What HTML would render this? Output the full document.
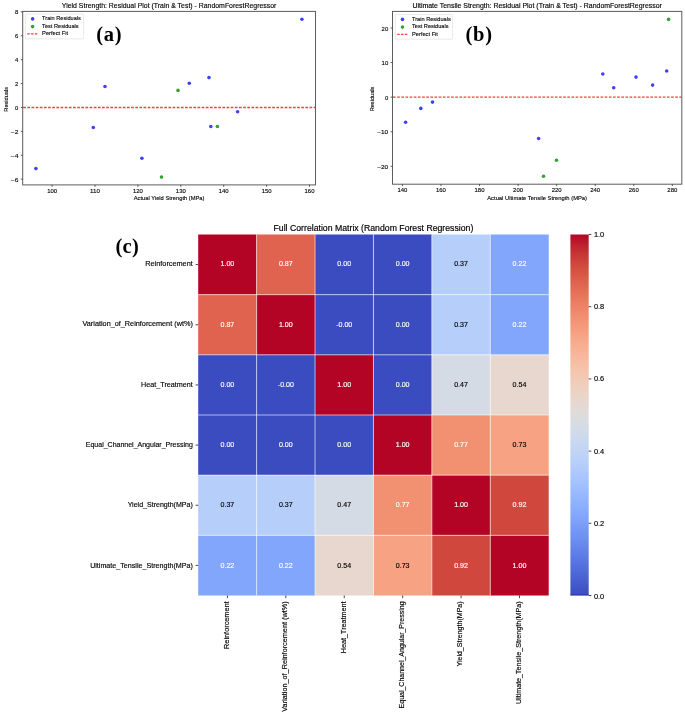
<!DOCTYPE html>
<html><head><meta charset="utf-8"><style>
html,body{margin:0;padding:0;background:#fff;}
body{width:685px;height:716px;overflow:hidden;font-family:"Liberation Sans",sans-serif;}
svg{display:block;will-change:transform;}

</style></head><body>
<svg width="685" height="716" viewBox="0 0 685 716" font-family="Liberation Sans, sans-serif">
<rect width="685" height="716" fill="#fff"/>
<text x="169.10" y="8.10" font-size="7.18" text-anchor="middle" fill="#000" stroke="#000" stroke-width="0.14" textLength="214.57" lengthAdjust="spacingAndGlyphs">Yield Strength: Residual Plot (Train &amp; Test) - RandomForestRegressor</text>
<line x1="23.20" y1="107.45" x2="315.50" y2="107.45" stroke="#f43c3c" stroke-width="1.4" stroke-dasharray="2.7 1.45"/>
<circle cx="35.90" cy="168.60" r="1.80" fill="#4040f8"/>
<circle cx="93.30" cy="127.50" r="1.80" fill="#4040f8"/>
<circle cx="105.00" cy="86.50" r="1.80" fill="#4040f8"/>
<circle cx="141.90" cy="158.30" r="1.80" fill="#4040f8"/>
<circle cx="189.30" cy="83.20" r="1.80" fill="#4040f8"/>
<circle cx="209.00" cy="77.60" r="1.80" fill="#4040f8"/>
<circle cx="210.80" cy="126.50" r="1.80" fill="#4040f8"/>
<circle cx="237.60" cy="111.70" r="1.80" fill="#4040f8"/>
<circle cx="301.90" cy="19.30" r="1.80" fill="#4040f8"/>
<circle cx="178.00" cy="90.40" r="1.80" fill="#37a037"/>
<circle cx="161.50" cy="177.10" r="1.80" fill="#37a037"/>
<circle cx="217.40" cy="126.50" r="1.80" fill="#37a037"/>
<rect x="22.70" y="11.40" width="292.80" height="173.50" fill="none" stroke="#5c5c5c" stroke-width="1"/>
<line x1="52.10" y1="184.90" x2="52.10" y2="186.80" stroke="#333" stroke-width="0.8"/>
<text x="52.10" y="192.80" font-size="5.98" text-anchor="middle" fill="#000" stroke="#000" stroke-width="0.12" textLength="9.93" lengthAdjust="spacingAndGlyphs">100</text>
<line x1="95.00" y1="184.90" x2="95.00" y2="186.80" stroke="#333" stroke-width="0.8"/>
<text x="95.00" y="192.80" font-size="5.98" text-anchor="middle" fill="#000" stroke="#000" stroke-width="0.12" textLength="9.93" lengthAdjust="spacingAndGlyphs">110</text>
<line x1="137.90" y1="184.90" x2="137.90" y2="186.80" stroke="#333" stroke-width="0.8"/>
<text x="137.90" y="192.80" font-size="5.98" text-anchor="middle" fill="#000" stroke="#000" stroke-width="0.12" textLength="9.93" lengthAdjust="spacingAndGlyphs">120</text>
<line x1="180.80" y1="184.90" x2="180.80" y2="186.80" stroke="#333" stroke-width="0.8"/>
<text x="180.80" y="192.80" font-size="5.98" text-anchor="middle" fill="#000" stroke="#000" stroke-width="0.12" textLength="9.93" lengthAdjust="spacingAndGlyphs">130</text>
<line x1="223.70" y1="184.90" x2="223.70" y2="186.80" stroke="#333" stroke-width="0.8"/>
<text x="223.70" y="192.80" font-size="5.98" text-anchor="middle" fill="#000" stroke="#000" stroke-width="0.12" textLength="9.93" lengthAdjust="spacingAndGlyphs">140</text>
<line x1="266.60" y1="184.90" x2="266.60" y2="186.80" stroke="#333" stroke-width="0.8"/>
<text x="266.60" y="192.80" font-size="5.98" text-anchor="middle" fill="#000" stroke="#000" stroke-width="0.12" textLength="9.93" lengthAdjust="spacingAndGlyphs">150</text>
<line x1="309.50" y1="184.90" x2="309.50" y2="186.80" stroke="#333" stroke-width="0.8"/>
<text x="309.50" y="192.80" font-size="5.98" text-anchor="middle" fill="#000" stroke="#000" stroke-width="0.12" textLength="9.93" lengthAdjust="spacingAndGlyphs">160</text>
<line x1="20.80" y1="179.15" x2="22.70" y2="179.15" stroke="#333" stroke-width="0.8"/>
<text x="18.40" y="181.75" font-size="5.98" text-anchor="end" fill="#000" stroke="#000" stroke-width="0.12" textLength="7.67" lengthAdjust="spacingAndGlyphs">−6</text>
<line x1="20.80" y1="155.25" x2="22.70" y2="155.25" stroke="#333" stroke-width="0.8"/>
<text x="18.40" y="157.85" font-size="5.98" text-anchor="end" fill="#000" stroke="#000" stroke-width="0.12" textLength="7.67" lengthAdjust="spacingAndGlyphs">−4</text>
<line x1="20.80" y1="131.35" x2="22.70" y2="131.35" stroke="#333" stroke-width="0.8"/>
<text x="18.40" y="133.95" font-size="5.98" text-anchor="end" fill="#000" stroke="#000" stroke-width="0.12" textLength="7.67" lengthAdjust="spacingAndGlyphs">−2</text>
<line x1="20.80" y1="107.45" x2="22.70" y2="107.45" stroke="#333" stroke-width="0.8"/>
<text x="18.40" y="110.05" font-size="5.98" text-anchor="end" fill="#000" stroke="#000" stroke-width="0.12" textLength="3.31" lengthAdjust="spacingAndGlyphs">0</text>
<line x1="20.80" y1="83.55" x2="22.70" y2="83.55" stroke="#333" stroke-width="0.8"/>
<text x="18.40" y="86.15" font-size="5.98" text-anchor="end" fill="#000" stroke="#000" stroke-width="0.12" textLength="3.31" lengthAdjust="spacingAndGlyphs">2</text>
<line x1="20.80" y1="59.65" x2="22.70" y2="59.65" stroke="#333" stroke-width="0.8"/>
<text x="18.40" y="62.25" font-size="5.98" text-anchor="end" fill="#000" stroke="#000" stroke-width="0.12" textLength="3.31" lengthAdjust="spacingAndGlyphs">4</text>
<line x1="20.80" y1="35.75" x2="22.70" y2="35.75" stroke="#333" stroke-width="0.8"/>
<text x="18.40" y="38.35" font-size="5.98" text-anchor="end" fill="#000" stroke="#000" stroke-width="0.12" textLength="3.31" lengthAdjust="spacingAndGlyphs">6</text>
<line x1="20.80" y1="11.85" x2="22.70" y2="11.85" stroke="#333" stroke-width="0.8"/>
<text x="18.40" y="14.45" font-size="5.98" text-anchor="end" fill="#000" stroke="#000" stroke-width="0.12" textLength="3.31" lengthAdjust="spacingAndGlyphs">8</text>
<text x="169.10" y="200.40" font-size="5.98" text-anchor="middle" fill="#000" stroke="#000" stroke-width="0.12" textLength="70.76" lengthAdjust="spacingAndGlyphs">Actual Yield Strength (MPa)</text>
<text x="8.20" y="99.35" font-size="5.98" text-anchor="middle" fill="#000" stroke="#000" stroke-width="0.12" textLength="24.67" lengthAdjust="spacingAndGlyphs" transform="rotate(-90 8.20 99.35)">Residuals</text>
<rect x="25.30" y="14.10" width="58.30" height="24.80" rx="1" fill="#fff" fill-opacity="0.8" stroke="#d8d8d8" stroke-width="0.6"/>
<circle cx="32.60" cy="18.90" r="1.80" fill="#4040f8"/>
<text x="42.10" y="20.20" font-size="5.98" text-anchor="start" fill="#000" stroke="#000" stroke-width="0.12" textLength="38.80" lengthAdjust="spacingAndGlyphs">Train Residuals</text>
<circle cx="32.60" cy="26.60" r="1.80" fill="#37a037"/>
<text x="42.10" y="27.90" font-size="5.98" text-anchor="start" fill="#000" stroke="#000" stroke-width="0.12" textLength="36.56" lengthAdjust="spacingAndGlyphs">Test Residuals</text>
<line x1="27.30" y1="33.90" x2="37.90" y2="33.90" stroke="#f43c3c" stroke-width="1.3" stroke-dasharray="2.5 1.3"/>
<text x="42.10" y="35.20" font-size="5.98" text-anchor="start" fill="#000" stroke="#000" stroke-width="0.12" textLength="25.96" lengthAdjust="spacingAndGlyphs">Perfect Fit</text>
<text x="96.30" y="40.90" style="font-family:Liberation Serif,serif;font-weight:bold;letter-spacing:0.7px" font-size="20.5" fill="#000">(a)</text>
<text x="537.15" y="8.10" font-size="7.18" text-anchor="middle" fill="#000" stroke="#000" stroke-width="0.14" textLength="249.47" lengthAdjust="spacingAndGlyphs">Ultimate Tensile Strength: Residual Plot (Train &amp; Test) - RandomForestRegressor</text>
<line x1="393.00" y1="97.15" x2="681.80" y2="97.15" stroke="#f43c3c" stroke-width="1.4" stroke-dasharray="2.7 1.45"/>
<circle cx="405.60" cy="122.20" r="1.80" fill="#4040f8"/>
<circle cx="420.80" cy="108.40" r="1.80" fill="#4040f8"/>
<circle cx="432.50" cy="102.10" r="1.80" fill="#4040f8"/>
<circle cx="538.60" cy="138.50" r="1.80" fill="#4040f8"/>
<circle cx="602.80" cy="74.00" r="1.80" fill="#4040f8"/>
<circle cx="613.70" cy="87.70" r="1.80" fill="#4040f8"/>
<circle cx="636.00" cy="77.10" r="1.80" fill="#4040f8"/>
<circle cx="652.60" cy="85.10" r="1.80" fill="#4040f8"/>
<circle cx="666.70" cy="71.00" r="1.80" fill="#4040f8"/>
<circle cx="556.50" cy="160.30" r="1.80" fill="#37a037"/>
<circle cx="543.50" cy="176.20" r="1.80" fill="#37a037"/>
<circle cx="668.60" cy="19.40" r="1.80" fill="#37a037"/>
<rect x="392.50" y="11.40" width="289.30" height="172.80" fill="none" stroke="#5c5c5c" stroke-width="1"/>
<line x1="402.40" y1="184.20" x2="402.40" y2="186.10" stroke="#333" stroke-width="0.8"/>
<text x="402.40" y="192.10" font-size="5.98" text-anchor="middle" fill="#000" stroke="#000" stroke-width="0.12" textLength="9.93" lengthAdjust="spacingAndGlyphs">140</text>
<line x1="440.96" y1="184.20" x2="440.96" y2="186.10" stroke="#333" stroke-width="0.8"/>
<text x="440.96" y="192.10" font-size="5.98" text-anchor="middle" fill="#000" stroke="#000" stroke-width="0.12" textLength="9.93" lengthAdjust="spacingAndGlyphs">160</text>
<line x1="479.52" y1="184.20" x2="479.52" y2="186.10" stroke="#333" stroke-width="0.8"/>
<text x="479.52" y="192.10" font-size="5.98" text-anchor="middle" fill="#000" stroke="#000" stroke-width="0.12" textLength="9.93" lengthAdjust="spacingAndGlyphs">180</text>
<line x1="518.08" y1="184.20" x2="518.08" y2="186.10" stroke="#333" stroke-width="0.8"/>
<text x="518.08" y="192.10" font-size="5.98" text-anchor="middle" fill="#000" stroke="#000" stroke-width="0.12" textLength="9.93" lengthAdjust="spacingAndGlyphs">200</text>
<line x1="556.64" y1="184.20" x2="556.64" y2="186.10" stroke="#333" stroke-width="0.8"/>
<text x="556.64" y="192.10" font-size="5.98" text-anchor="middle" fill="#000" stroke="#000" stroke-width="0.12" textLength="9.93" lengthAdjust="spacingAndGlyphs">220</text>
<line x1="595.20" y1="184.20" x2="595.20" y2="186.10" stroke="#333" stroke-width="0.8"/>
<text x="595.20" y="192.10" font-size="5.98" text-anchor="middle" fill="#000" stroke="#000" stroke-width="0.12" textLength="9.93" lengthAdjust="spacingAndGlyphs">240</text>
<line x1="633.76" y1="184.20" x2="633.76" y2="186.10" stroke="#333" stroke-width="0.8"/>
<text x="633.76" y="192.10" font-size="5.98" text-anchor="middle" fill="#000" stroke="#000" stroke-width="0.12" textLength="9.93" lengthAdjust="spacingAndGlyphs">260</text>
<line x1="672.32" y1="184.20" x2="672.32" y2="186.10" stroke="#333" stroke-width="0.8"/>
<text x="672.32" y="192.10" font-size="5.98" text-anchor="middle" fill="#000" stroke="#000" stroke-width="0.12" textLength="9.93" lengthAdjust="spacingAndGlyphs">280</text>
<line x1="390.60" y1="166.35" x2="392.50" y2="166.35" stroke="#333" stroke-width="0.8"/>
<text x="388.20" y="168.95" font-size="5.98" text-anchor="end" fill="#000" stroke="#000" stroke-width="0.12" textLength="10.97" lengthAdjust="spacingAndGlyphs">−20</text>
<line x1="390.60" y1="131.75" x2="392.50" y2="131.75" stroke="#333" stroke-width="0.8"/>
<text x="388.20" y="134.35" font-size="5.98" text-anchor="end" fill="#000" stroke="#000" stroke-width="0.12" textLength="10.97" lengthAdjust="spacingAndGlyphs">−10</text>
<line x1="390.60" y1="97.15" x2="392.50" y2="97.15" stroke="#333" stroke-width="0.8"/>
<text x="388.20" y="99.75" font-size="5.98" text-anchor="end" fill="#000" stroke="#000" stroke-width="0.12" textLength="3.31" lengthAdjust="spacingAndGlyphs">0</text>
<line x1="390.60" y1="62.55" x2="392.50" y2="62.55" stroke="#333" stroke-width="0.8"/>
<text x="388.20" y="65.15" font-size="5.98" text-anchor="end" fill="#000" stroke="#000" stroke-width="0.12" textLength="6.62" lengthAdjust="spacingAndGlyphs">10</text>
<line x1="390.60" y1="27.95" x2="392.50" y2="27.95" stroke="#333" stroke-width="0.8"/>
<text x="388.20" y="30.55" font-size="5.98" text-anchor="end" fill="#000" stroke="#000" stroke-width="0.12" textLength="6.62" lengthAdjust="spacingAndGlyphs">20</text>
<text x="537.15" y="199.70" font-size="5.98" text-anchor="middle" fill="#000" stroke="#000" stroke-width="0.12" textLength="99.84" lengthAdjust="spacingAndGlyphs">Actual Ultimate Tensile Strength (MPa)</text>
<text x="374.40" y="99.00" font-size="5.98" text-anchor="middle" fill="#000" stroke="#000" stroke-width="0.12" textLength="24.67" lengthAdjust="spacingAndGlyphs" transform="rotate(-90 374.40 99.00)">Residuals</text>
<rect x="395.20" y="14.60" width="57.40" height="24.60" rx="1" fill="#fff" fill-opacity="0.8" stroke="#d8d8d8" stroke-width="0.6"/>
<circle cx="402.50" cy="19.40" r="1.80" fill="#4040f8"/>
<text x="412.00" y="20.70" font-size="5.98" text-anchor="start" fill="#000" stroke="#000" stroke-width="0.12" textLength="38.80" lengthAdjust="spacingAndGlyphs">Train Residuals</text>
<circle cx="402.50" cy="27.10" r="1.80" fill="#37a037"/>
<text x="412.00" y="28.40" font-size="5.98" text-anchor="start" fill="#000" stroke="#000" stroke-width="0.12" textLength="36.56" lengthAdjust="spacingAndGlyphs">Test Residuals</text>
<line x1="397.20" y1="34.40" x2="407.80" y2="34.40" stroke="#f43c3c" stroke-width="1.3" stroke-dasharray="2.5 1.3"/>
<text x="412.00" y="35.70" font-size="5.98" text-anchor="start" fill="#000" stroke="#000" stroke-width="0.12" textLength="25.96" lengthAdjust="spacingAndGlyphs">Perfect Fit</text>
<text x="465.60" y="40.90" style="font-family:Liberation Serif,serif;font-weight:bold;letter-spacing:0.7px" font-size="20.5" fill="#000">(b)</text>
<text x="373.45" y="230.90" font-size="9.04" text-anchor="middle" fill="#000" stroke="#000" stroke-width="0.18" textLength="199.81" lengthAdjust="spacingAndGlyphs">Full Correlation Matrix (Random Forest Regression)</text>
<rect x="198.20" y="234.50" width="58.44" height="60.19" fill="#b40426"/>
<rect x="256.62" y="234.50" width="58.44" height="60.19" fill="#df634e"/>
<rect x="315.03" y="234.50" width="58.44" height="60.19" fill="#3b4cc0"/>
<rect x="373.45" y="234.50" width="58.44" height="60.19" fill="#3b4cc0"/>
<rect x="431.87" y="234.50" width="58.44" height="60.19" fill="#b6cefa"/>
<rect x="490.28" y="234.50" width="58.44" height="60.19" fill="#82a6fb"/>
<rect x="198.20" y="294.67" width="58.44" height="60.19" fill="#df634e"/>
<rect x="256.62" y="294.67" width="58.44" height="60.19" fill="#b40426"/>
<rect x="315.03" y="294.67" width="58.44" height="60.19" fill="#3b4cc0"/>
<rect x="373.45" y="294.67" width="58.44" height="60.19" fill="#3b4cc0"/>
<rect x="431.87" y="294.67" width="58.44" height="60.19" fill="#b6cefa"/>
<rect x="490.28" y="294.67" width="58.44" height="60.19" fill="#82a6fb"/>
<rect x="198.20" y="354.83" width="58.44" height="60.19" fill="#3b4cc0"/>
<rect x="256.62" y="354.83" width="58.44" height="60.19" fill="#3b4cc0"/>
<rect x="315.03" y="354.83" width="58.44" height="60.19" fill="#b40426"/>
<rect x="373.45" y="354.83" width="58.44" height="60.19" fill="#3b4cc0"/>
<rect x="431.87" y="354.83" width="58.44" height="60.19" fill="#d5dbe5"/>
<rect x="490.28" y="354.83" width="58.44" height="60.19" fill="#e7d7ce"/>
<rect x="198.20" y="415.00" width="58.44" height="60.19" fill="#3b4cc0"/>
<rect x="256.62" y="415.00" width="58.44" height="60.19" fill="#3b4cc0"/>
<rect x="315.03" y="415.00" width="58.44" height="60.19" fill="#3b4cc0"/>
<rect x="373.45" y="415.00" width="58.44" height="60.19" fill="#b40426"/>
<rect x="431.87" y="415.00" width="58.44" height="60.19" fill="#f29072"/>
<rect x="490.28" y="415.00" width="58.44" height="60.19" fill="#f6a283"/>
<rect x="198.20" y="475.17" width="58.44" height="60.19" fill="#b6cefa"/>
<rect x="256.62" y="475.17" width="58.44" height="60.19" fill="#b6cefa"/>
<rect x="315.03" y="475.17" width="58.44" height="60.19" fill="#d5dbe5"/>
<rect x="373.45" y="475.17" width="58.44" height="60.19" fill="#f29072"/>
<rect x="431.87" y="475.17" width="58.44" height="60.19" fill="#b40426"/>
<rect x="490.28" y="475.17" width="58.44" height="60.19" fill="#d0473d"/>
<rect x="198.20" y="535.33" width="58.44" height="60.19" fill="#82a6fb"/>
<rect x="256.62" y="535.33" width="58.44" height="60.19" fill="#82a6fb"/>
<rect x="315.03" y="535.33" width="58.44" height="60.19" fill="#e7d7ce"/>
<rect x="373.45" y="535.33" width="58.44" height="60.19" fill="#f6a283"/>
<rect x="431.87" y="535.33" width="58.44" height="60.19" fill="#d0473d"/>
<rect x="490.28" y="535.33" width="58.44" height="60.19" fill="#b40426"/>
<text x="227.41" y="266.18" font-size="7.13" text-anchor="middle" fill="#fff" stroke="#fff" stroke-width="0.14" textLength="13.80" lengthAdjust="spacingAndGlyphs">1.00</text>
<text x="285.82" y="266.18" font-size="7.13" text-anchor="middle" fill="#fff" stroke="#fff" stroke-width="0.14" textLength="13.80" lengthAdjust="spacingAndGlyphs">0.87</text>
<text x="344.24" y="266.18" font-size="7.13" text-anchor="middle" fill="#fff" stroke="#fff" stroke-width="0.14" textLength="13.80" lengthAdjust="spacingAndGlyphs">0.00</text>
<text x="402.66" y="266.18" font-size="7.13" text-anchor="middle" fill="#fff" stroke="#fff" stroke-width="0.14" textLength="13.80" lengthAdjust="spacingAndGlyphs">0.00</text>
<text x="461.08" y="266.18" font-size="7.13" text-anchor="middle" fill="#000" stroke="#000" stroke-width="0.14" textLength="13.80" lengthAdjust="spacingAndGlyphs">0.37</text>
<text x="519.49" y="266.18" font-size="7.13" text-anchor="middle" fill="#fff" stroke="#fff" stroke-width="0.14" textLength="13.80" lengthAdjust="spacingAndGlyphs">0.22</text>
<text x="227.41" y="326.50" font-size="7.13" text-anchor="middle" fill="#fff" stroke="#fff" stroke-width="0.14" textLength="13.80" lengthAdjust="spacingAndGlyphs">0.87</text>
<text x="285.82" y="326.50" font-size="7.13" text-anchor="middle" fill="#fff" stroke="#fff" stroke-width="0.14" textLength="13.80" lengthAdjust="spacingAndGlyphs">1.00</text>
<text x="344.24" y="326.50" font-size="7.13" text-anchor="middle" fill="#fff" stroke="#fff" stroke-width="0.14" textLength="16.04" lengthAdjust="spacingAndGlyphs">-0.00</text>
<text x="402.66" y="326.50" font-size="7.13" text-anchor="middle" fill="#fff" stroke="#fff" stroke-width="0.14" textLength="13.80" lengthAdjust="spacingAndGlyphs">0.00</text>
<text x="461.08" y="326.50" font-size="7.13" text-anchor="middle" fill="#000" stroke="#000" stroke-width="0.14" textLength="13.80" lengthAdjust="spacingAndGlyphs">0.37</text>
<text x="519.49" y="326.50" font-size="7.13" text-anchor="middle" fill="#fff" stroke="#fff" stroke-width="0.14" textLength="13.80" lengthAdjust="spacingAndGlyphs">0.22</text>
<text x="227.41" y="386.82" font-size="7.13" text-anchor="middle" fill="#fff" stroke="#fff" stroke-width="0.14" textLength="13.80" lengthAdjust="spacingAndGlyphs">0.00</text>
<text x="285.82" y="386.82" font-size="7.13" text-anchor="middle" fill="#fff" stroke="#fff" stroke-width="0.14" textLength="16.04" lengthAdjust="spacingAndGlyphs">-0.00</text>
<text x="344.24" y="386.82" font-size="7.13" text-anchor="middle" fill="#fff" stroke="#fff" stroke-width="0.14" textLength="13.80" lengthAdjust="spacingAndGlyphs">1.00</text>
<text x="402.66" y="386.82" font-size="7.13" text-anchor="middle" fill="#fff" stroke="#fff" stroke-width="0.14" textLength="13.80" lengthAdjust="spacingAndGlyphs">0.00</text>
<text x="461.08" y="386.82" font-size="7.13" text-anchor="middle" fill="#000" stroke="#000" stroke-width="0.14" textLength="13.80" lengthAdjust="spacingAndGlyphs">0.47</text>
<text x="519.49" y="386.82" font-size="7.13" text-anchor="middle" fill="#000" stroke="#000" stroke-width="0.14" textLength="13.80" lengthAdjust="spacingAndGlyphs">0.54</text>
<text x="227.41" y="447.13" font-size="7.13" text-anchor="middle" fill="#fff" stroke="#fff" stroke-width="0.14" textLength="13.80" lengthAdjust="spacingAndGlyphs">0.00</text>
<text x="285.82" y="447.13" font-size="7.13" text-anchor="middle" fill="#fff" stroke="#fff" stroke-width="0.14" textLength="13.80" lengthAdjust="spacingAndGlyphs">0.00</text>
<text x="344.24" y="447.13" font-size="7.13" text-anchor="middle" fill="#fff" stroke="#fff" stroke-width="0.14" textLength="13.80" lengthAdjust="spacingAndGlyphs">0.00</text>
<text x="402.66" y="447.13" font-size="7.13" text-anchor="middle" fill="#fff" stroke="#fff" stroke-width="0.14" textLength="13.80" lengthAdjust="spacingAndGlyphs">1.00</text>
<text x="461.08" y="447.13" font-size="7.13" text-anchor="middle" fill="#fff" stroke="#fff" stroke-width="0.14" textLength="13.80" lengthAdjust="spacingAndGlyphs">0.77</text>
<text x="519.49" y="447.13" font-size="7.13" text-anchor="middle" fill="#000" stroke="#000" stroke-width="0.14" textLength="13.80" lengthAdjust="spacingAndGlyphs">0.73</text>
<text x="227.41" y="507.45" font-size="7.13" text-anchor="middle" fill="#000" stroke="#000" stroke-width="0.14" textLength="13.80" lengthAdjust="spacingAndGlyphs">0.37</text>
<text x="285.82" y="507.45" font-size="7.13" text-anchor="middle" fill="#000" stroke="#000" stroke-width="0.14" textLength="13.80" lengthAdjust="spacingAndGlyphs">0.37</text>
<text x="344.24" y="507.45" font-size="7.13" text-anchor="middle" fill="#000" stroke="#000" stroke-width="0.14" textLength="13.80" lengthAdjust="spacingAndGlyphs">0.47</text>
<text x="402.66" y="507.45" font-size="7.13" text-anchor="middle" fill="#fff" stroke="#fff" stroke-width="0.14" textLength="13.80" lengthAdjust="spacingAndGlyphs">0.77</text>
<text x="461.08" y="507.45" font-size="7.13" text-anchor="middle" fill="#fff" stroke="#fff" stroke-width="0.14" textLength="13.80" lengthAdjust="spacingAndGlyphs">1.00</text>
<text x="519.49" y="507.45" font-size="7.13" text-anchor="middle" fill="#fff" stroke="#fff" stroke-width="0.14" textLength="13.80" lengthAdjust="spacingAndGlyphs">0.92</text>
<text x="227.41" y="567.77" font-size="7.13" text-anchor="middle" fill="#fff" stroke="#fff" stroke-width="0.14" textLength="13.80" lengthAdjust="spacingAndGlyphs">0.22</text>
<text x="285.82" y="567.77" font-size="7.13" text-anchor="middle" fill="#fff" stroke="#fff" stroke-width="0.14" textLength="13.80" lengthAdjust="spacingAndGlyphs">0.22</text>
<text x="344.24" y="567.77" font-size="7.13" text-anchor="middle" fill="#000" stroke="#000" stroke-width="0.14" textLength="13.80" lengthAdjust="spacingAndGlyphs">0.54</text>
<text x="402.66" y="567.77" font-size="7.13" text-anchor="middle" fill="#000" stroke="#000" stroke-width="0.14" textLength="13.80" lengthAdjust="spacingAndGlyphs">0.73</text>
<text x="461.08" y="567.77" font-size="7.13" text-anchor="middle" fill="#fff" stroke="#fff" stroke-width="0.14" textLength="13.80" lengthAdjust="spacingAndGlyphs">0.92</text>
<text x="519.49" y="567.77" font-size="7.13" text-anchor="middle" fill="#fff" stroke="#fff" stroke-width="0.14" textLength="13.80" lengthAdjust="spacingAndGlyphs">1.00</text>
<line x1="256.62" y1="234.50" x2="256.62" y2="595.50" stroke="#fff" stroke-opacity="0.75" stroke-width="0.8"/>
<line x1="198.20" y1="294.67" x2="548.70" y2="294.67" stroke="#fff" stroke-opacity="0.75" stroke-width="0.8"/>
<line x1="315.03" y1="234.50" x2="315.03" y2="595.50" stroke="#fff" stroke-opacity="0.75" stroke-width="0.8"/>
<line x1="198.20" y1="354.83" x2="548.70" y2="354.83" stroke="#fff" stroke-opacity="0.75" stroke-width="0.8"/>
<line x1="373.45" y1="234.50" x2="373.45" y2="595.50" stroke="#fff" stroke-opacity="0.75" stroke-width="0.8"/>
<line x1="198.20" y1="415.00" x2="548.70" y2="415.00" stroke="#fff" stroke-opacity="0.75" stroke-width="0.8"/>
<line x1="431.87" y1="234.50" x2="431.87" y2="595.50" stroke="#fff" stroke-opacity="0.75" stroke-width="0.8"/>
<line x1="198.20" y1="475.17" x2="548.70" y2="475.17" stroke="#fff" stroke-opacity="0.75" stroke-width="0.8"/>
<line x1="490.28" y1="234.50" x2="490.28" y2="595.50" stroke="#fff" stroke-opacity="0.75" stroke-width="0.8"/>
<line x1="198.20" y1="535.33" x2="548.70" y2="535.33" stroke="#fff" stroke-opacity="0.75" stroke-width="0.8"/>
<line x1="195.60" y1="264.58" x2="198.20" y2="264.58" stroke="#333" stroke-width="0.9"/>
<text x="192.80" y="266.18" font-size="7.47" text-anchor="end" fill="#000" stroke="#000" stroke-width="0.15" textLength="47.52" lengthAdjust="spacingAndGlyphs">Reinforcement</text>
<line x1="195.60" y1="324.75" x2="198.20" y2="324.75" stroke="#333" stroke-width="0.9"/>
<text x="192.80" y="326.47" font-size="7.47" text-anchor="end" fill="#000" stroke="#000" stroke-width="0.15" textLength="110.30" lengthAdjust="spacingAndGlyphs">Variation_of_Reinforcement (wt%)</text>
<line x1="195.60" y1="384.92" x2="198.20" y2="384.92" stroke="#333" stroke-width="0.9"/>
<text x="192.80" y="386.76" font-size="7.47" text-anchor="end" fill="#000" stroke="#000" stroke-width="0.15" textLength="51.74" lengthAdjust="spacingAndGlyphs">Heat_Treatment</text>
<line x1="195.60" y1="445.08" x2="198.20" y2="445.08" stroke="#333" stroke-width="0.9"/>
<text x="192.80" y="447.04" font-size="7.47" text-anchor="end" fill="#000" stroke="#000" stroke-width="0.15" textLength="107.01" lengthAdjust="spacingAndGlyphs">Equal_Channel_Angular_Pressing</text>
<line x1="195.60" y1="505.25" x2="198.20" y2="505.25" stroke="#333" stroke-width="0.9"/>
<text x="192.80" y="507.33" font-size="7.47" text-anchor="end" fill="#000" stroke="#000" stroke-width="0.15" textLength="65.13" lengthAdjust="spacingAndGlyphs">Yield_Strength(MPa)</text>
<line x1="195.60" y1="565.42" x2="198.20" y2="565.42" stroke="#333" stroke-width="0.9"/>
<text x="192.80" y="567.62" font-size="7.47" text-anchor="end" fill="#000" stroke="#000" stroke-width="0.15" textLength="102.67" lengthAdjust="spacingAndGlyphs">Ultimate_Tensile_Strength(MPa)</text>
<line x1="227.41" y1="595.50" x2="227.41" y2="598.10" stroke="#333" stroke-width="0.9"/>
<text x="228.71" y="601.40" font-size="7.47" text-anchor="end" fill="#000" stroke="#000" stroke-width="0.15" textLength="47.52" lengthAdjust="spacingAndGlyphs" transform="rotate(-90 228.71 601.40)">Reinforcement</text>
<line x1="285.82" y1="595.50" x2="285.82" y2="598.10" stroke="#333" stroke-width="0.9"/>
<text x="287.12" y="601.40" font-size="7.47" text-anchor="end" fill="#000" stroke="#000" stroke-width="0.15" textLength="110.30" lengthAdjust="spacingAndGlyphs" transform="rotate(-90 287.12 601.40)">Variation_of_Reinforcement (wt%)</text>
<line x1="344.24" y1="595.50" x2="344.24" y2="598.10" stroke="#333" stroke-width="0.9"/>
<text x="345.54" y="601.40" font-size="7.47" text-anchor="end" fill="#000" stroke="#000" stroke-width="0.15" textLength="51.74" lengthAdjust="spacingAndGlyphs" transform="rotate(-90 345.54 601.40)">Heat_Treatment</text>
<line x1="402.66" y1="595.50" x2="402.66" y2="598.10" stroke="#333" stroke-width="0.9"/>
<text x="403.96" y="601.40" font-size="7.47" text-anchor="end" fill="#000" stroke="#000" stroke-width="0.15" textLength="107.01" lengthAdjust="spacingAndGlyphs" transform="rotate(-90 403.96 601.40)">Equal_Channel_Angular_Pressing</text>
<line x1="461.08" y1="595.50" x2="461.08" y2="598.10" stroke="#333" stroke-width="0.9"/>
<text x="462.38" y="601.40" font-size="7.47" text-anchor="end" fill="#000" stroke="#000" stroke-width="0.15" textLength="65.13" lengthAdjust="spacingAndGlyphs" transform="rotate(-90 462.38 601.40)">Yield_Strength(MPa)</text>
<line x1="519.49" y1="595.50" x2="519.49" y2="598.10" stroke="#333" stroke-width="0.9"/>
<text x="520.79" y="601.40" font-size="7.47" text-anchor="end" fill="#000" stroke="#000" stroke-width="0.15" textLength="102.67" lengthAdjust="spacingAndGlyphs" transform="rotate(-90 520.79 601.40)">Ultimate_Tensile_Strength(MPa)</text>
<text x="115.6" y="252.8" style="font-family:Liberation Serif,serif;font-weight:bold;letter-spacing:0.2px" font-size="20.5" fill="#000">(c)</text>
<defs><linearGradient id="cb" x1="0" y1="1" x2="0" y2="0">
<stop offset="0.0000" stop-color="#3b4cc0"/>
<stop offset="0.0312" stop-color="#445acc"/>
<stop offset="0.0625" stop-color="#4e68d8"/>
<stop offset="0.0938" stop-color="#5875e1"/>
<stop offset="0.1250" stop-color="#6282ea"/>
<stop offset="0.1562" stop-color="#6c8ff1"/>
<stop offset="0.1875" stop-color="#779af7"/>
<stop offset="0.2188" stop-color="#82a6fb"/>
<stop offset="0.2500" stop-color="#8db0fe"/>
<stop offset="0.2812" stop-color="#98b9ff"/>
<stop offset="0.3125" stop-color="#a3c2fe"/>
<stop offset="0.3438" stop-color="#aec9fc"/>
<stop offset="0.3750" stop-color="#b9d0f9"/>
<stop offset="0.4062" stop-color="#c3d5f4"/>
<stop offset="0.4375" stop-color="#ccd9ed"/>
<stop offset="0.4688" stop-color="#d5dbe5"/>
<stop offset="0.5000" stop-color="#dddcdc"/>
<stop offset="0.5312" stop-color="#e5d8d1"/>
<stop offset="0.5625" stop-color="#ecd3c5"/>
<stop offset="0.5938" stop-color="#f1ccb8"/>
<stop offset="0.6250" stop-color="#f5c4ac"/>
<stop offset="0.6562" stop-color="#f7ba9f"/>
<stop offset="0.6875" stop-color="#f7b093"/>
<stop offset="0.7188" stop-color="#f6a586"/>
<stop offset="0.7500" stop-color="#f4987a"/>
<stop offset="0.7812" stop-color="#f08b6e"/>
<stop offset="0.8125" stop-color="#eb7d62"/>
<stop offset="0.8438" stop-color="#e46e56"/>
<stop offset="0.8750" stop-color="#dd5f4b"/>
<stop offset="0.9062" stop-color="#d44e41"/>
<stop offset="0.9375" stop-color="#ca3b37"/>
<stop offset="0.9688" stop-color="#be242e"/>
<stop offset="1.0000" stop-color="#b40426"/>
</linearGradient></defs>
<rect x="570.40" y="234.50" width="18.30" height="361.00" fill="url(#cb)"/>
<rect x="570.40" y="594.30" width="18.30" height="1" fill="#2433b0" fill-opacity="0.8"/>
<line x1="588.70" y1="595.50" x2="591.30" y2="595.50" stroke="#333" stroke-width="0.9"/>
<text x="593.90" y="598.50" font-size="7.47" text-anchor="start" fill="#000" stroke="#000" stroke-width="0.15" textLength="10.34" lengthAdjust="spacingAndGlyphs">0.0</text>
<line x1="588.70" y1="523.30" x2="591.30" y2="523.30" stroke="#333" stroke-width="0.9"/>
<text x="593.90" y="526.16" font-size="7.47" text-anchor="start" fill="#000" stroke="#000" stroke-width="0.15" textLength="10.34" lengthAdjust="spacingAndGlyphs">0.2</text>
<line x1="588.70" y1="451.10" x2="591.30" y2="451.10" stroke="#333" stroke-width="0.9"/>
<text x="593.90" y="453.82" font-size="7.47" text-anchor="start" fill="#000" stroke="#000" stroke-width="0.15" textLength="10.34" lengthAdjust="spacingAndGlyphs">0.4</text>
<line x1="588.70" y1="378.90" x2="591.30" y2="378.90" stroke="#333" stroke-width="0.9"/>
<text x="593.90" y="381.48" font-size="7.47" text-anchor="start" fill="#000" stroke="#000" stroke-width="0.15" textLength="10.34" lengthAdjust="spacingAndGlyphs">0.6</text>
<line x1="588.70" y1="306.70" x2="591.30" y2="306.70" stroke="#333" stroke-width="0.9"/>
<text x="593.90" y="309.14" font-size="7.47" text-anchor="start" fill="#000" stroke="#000" stroke-width="0.15" textLength="10.34" lengthAdjust="spacingAndGlyphs">0.8</text>
<line x1="588.70" y1="234.50" x2="591.30" y2="234.50" stroke="#333" stroke-width="0.9"/>
<text x="593.90" y="236.80" font-size="7.47" text-anchor="start" fill="#000" stroke="#000" stroke-width="0.15" textLength="10.34" lengthAdjust="spacingAndGlyphs">1.0</text>
</svg>
</body></html>
